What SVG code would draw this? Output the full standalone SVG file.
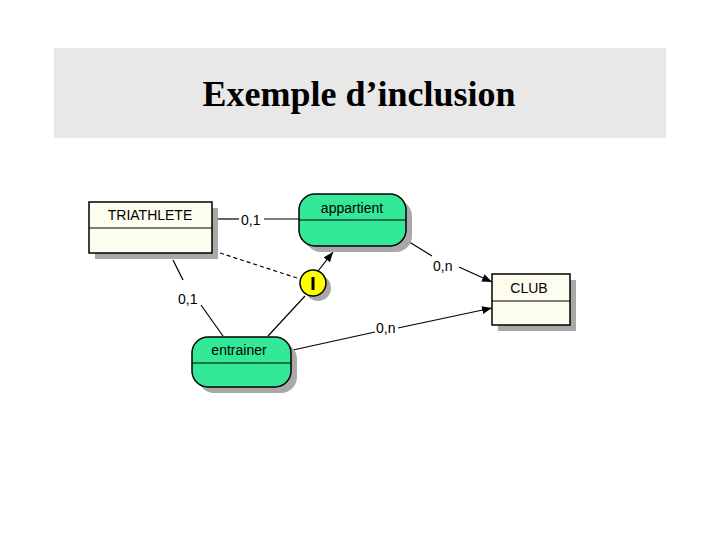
<svg xmlns="http://www.w3.org/2000/svg" width="720" height="540" viewBox="0 0 720 540">
<defs>
<style>
.ent{fill:#fdfdef;stroke:#000;stroke-width:1.5}
.rel{fill:#33e896;stroke:#000;stroke-width:1.5}
.sh{fill:#a8a8a8}
.t{font-family:"Liberation Sans",Arial,sans-serif;font-size:14px;fill:#000}
.ln{stroke:#000;stroke-width:1.2;fill:none}
.lbl{font-family:"Liberation Sans",Arial,sans-serif;font-size:14px;fill:#000}
</style>
<marker id="ah" markerWidth="10" markerHeight="8" refX="10" refY="4" orient="auto" markerUnits="userSpaceOnUse">
<path d="M0,0 L10,4 L0,8 Z" fill="#000"/>
</marker>
</defs>
<rect width="720" height="540" fill="#fff"/>
<rect x="54" y="48" width="612" height="90" fill="#e8e8e8"/>
<text x="359" y="106" text-anchor="middle" font-family="'Liberation Serif','Times New Roman',serif" font-size="36" font-weight="bold">Exemple d’inclusion</text>

<g id="connectors">
<line class="ln" x1="212" y1="219" x2="239" y2="219"/>
<line class="ln" x1="264" y1="219" x2="299" y2="219"/>
<text class="lbl" x="241" y="225">0,1</text>
<line class="ln" x1="220" y1="253" x2="300" y2="279" stroke-dasharray="4,3"/>
<line class="ln" x1="318" y1="271" x2="333" y2="252" marker-end="url(#ah)"/>
<line class="ln" x1="173" y1="260" x2="183" y2="280"/>
<line class="ln" x1="201" y1="305" x2="223" y2="336"/>
<text class="lbl" x="178" y="304">0,1</text>
<line class="ln" x1="268" y1="336" x2="305" y2="296"/>
<line class="ln" x1="406" y1="240" x2="432" y2="256"/>
<line class="ln" x1="459" y1="267" x2="492" y2="282" marker-end="url(#ah)"/>
<text class="lbl" x="433" y="271">0,n</text>
<line class="ln" x1="293" y1="350" x2="375" y2="332"/>
<line class="ln" x1="398" y1="328" x2="492" y2="308" marker-end="url(#ah)"/>
<text class="lbl" x="376" y="333">0,n</text>
</g>

<g id="triathlete">
<rect class="sh" x="95" y="208" width="123" height="51"/>
<rect class="ent" x="89" y="202" width="123" height="51"/>
<line class="ln" x1="89" y1="228" x2="212" y2="228"/>
<text class="t" x="150" y="220" text-anchor="middle">TRIATHLETE</text>
</g>

<g id="appartient">
<rect class="sh" x="305" y="200" width="107" height="52" rx="16"/>
<rect class="rel" x="299" y="194" width="107" height="52" rx="16"/>
<line class="ln" x1="299" y1="220" x2="406" y2="220"/>
<text class="t" x="352" y="213" text-anchor="middle">appartient</text>
</g>

<g id="inclusion">
<circle class="sh" cx="318" cy="288" r="13"/>
<circle cx="313" cy="283" r="13" fill="#ffff00" stroke="#000" stroke-width="1.5"/>
<line x1="313" y1="277" x2="313" y2="290" stroke="#000" stroke-width="3"/>
</g>

<g id="entrainer">
<rect class="sh" x="198" y="343" width="99" height="50" rx="16"/>
<rect class="rel" x="192" y="337" width="99" height="50" rx="16"/>
<line class="ln" x1="192" y1="363" x2="291" y2="363"/>
<text class="t" x="239" y="355" text-anchor="middle">entrainer</text>
</g>

<g id="club">
<rect class="sh" x="498" y="280" width="78" height="51"/>
<rect class="ent" x="492" y="274" width="78" height="51"/>
<line class="ln" x1="492" y1="301" x2="570" y2="301"/>
<text class="t" x="529" y="293" text-anchor="middle">CLUB</text>
</g>
</svg>
